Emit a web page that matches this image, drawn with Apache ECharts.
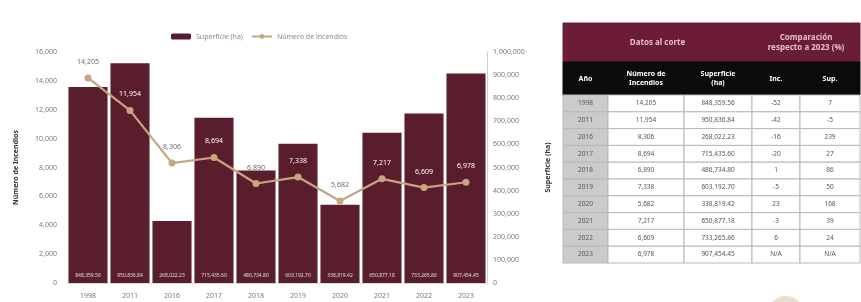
<!DOCTYPE html>
<html>
<head>
<meta charset="utf-8">
<script src="https://cdn.jsdelivr.net/npm/echarts@6/dist/echarts.min.js"></script>
<style>
  body { margin: 0; padding: 0; background: #ffffff; }
  #main { width: 861px; height: 302px; }
</style>
</head>
<body>
<div id="main"></div>
<script>
  // datos
  var years = ['1998', '2011', '2016', '2017', '2018', '2019', '2020', '2021', '2022', '2023'];
  var superficie = [848359.56, 950836.84, 268022.23, 715435.60, 486734.80, 603192.70, 338819.42, 650877.18, 733265.86, 907454.45];
  var incendios = [14205, 11954, 8306, 8694, 6890, 7338, 5682, 7217, 6609, 6978];
  var compInc = ['-52', '-42', '-16', '-20', '1', '-5', '23', '-3', '6', 'N/A'];
  var compSup = ['7', '-5', '239', '27', '86', '50', '168', '39', '24', 'N/A'];
  var leftMax = 16000, leftStep = 2000;
  var rightMax = 1000000, rightStep = 100000;

  var font = 'Noto Sans';
  var fmtInt = function (v) { return Number(v).toLocaleString('en-US'); };
  var fmtDec = function (v) { return Number(v).toLocaleString('en-US', { minimumFractionDigits: 2, maximumFractionDigits: 2 }); };

  // etiqueta blanca cuando cae sobre la barra
  var lineData = incendios.map(function (v, i) {
    var over = superficie[i] / rightMax > v / leftMax + 0.08;
    return { value: v, label: { color: over ? '#ffffff' : '#6b6b6b' } };
  });

  // ---- tabla (graphic) ----
  var colX = [563, 608, 684, 752, 800, 860];
  var h1 = [23, 62], h2 = [62, 95], rowTop = 95, rowH = 16.8;
  var graphics = [];
  function cell(x0, x1, y0, y1, fill, stroke, text, color, size, weight) {
    graphics.push({
      type: 'rect', shape: { x: x0, y: y0, width: x1 - x0, height: y1 - y0 },
      style: { fill: fill, stroke: stroke, lineWidth: 1 }, silent: true
    });
    graphics.push({
      type: 'text', x: (x0 + x1) / 2, y: (y0 + y1) / 2,
      style: { text: text, fill: color, fontSize: size, fontWeight: weight, fontFamily: font,
        align: 'center', verticalAlign: 'middle', lineHeight: size + 2 }, silent: true
    });
  }
  var maroon = '#6b1d38';
  cell(colX[0], colX[3], h1[0], h1[1], maroon, maroon, 'Datos al corte', '#e8bfcb', 8, 'bold');
  cell(colX[3], colX[5], h1[0], h1[1], maroon, maroon, 'Comparación\nrespecto a 2023 (%)', '#e8bfcb', 8, 'bold');
  var head2 = ['Año', 'Número de\nIncendios', 'Superficie\n(ha)', 'Inc.', 'Sup.'];
  head2.forEach(function (t, c) {
    cell(colX[c], colX[c + 1], h2[0], h2[1], '#0b0b0b', '#0b0b0b', t, '#ffffff', 7, 'bold');
  });
  years.forEach(function (y, r) {
    var y0 = rowTop + r * rowH, y1 = y0 + rowH;
    var vals = [y, fmtInt(incendios[r]), fmtDec(superficie[r]), compInc[r], compSup[r]];
    vals.forEach(function (t, c) {
      cell(colX[c], colX[c + 1], y0, y1, c === 0 ? '#cbcbcb' : '#ffffff', '#b9b9b9', t, '#555555', 6.5, 'normal');
    });
  });
  // logo tenue abajo a la derecha
  graphics.push({ type: 'circle', shape: { cx: 786, cy: 314, r: 18 }, style: { fill: '#eadfcf' }, silent: true });

  var chart = echarts.init(document.getElementById('main'));
  var option = {
    backgroundColor: '#ffffff',
    textStyle: { fontFamily: font },
    animation: false,
    legend: {
      top: 28, left: 166,
      itemWidth: 20, itemHeight: 6, itemGap: 8,
      textStyle: { fontSize: 7, color: '#8a8a8a', fontFamily: font },
      data: ['Superficie (ha)', 'Número de incendios']
    },
    grid: { left: 67, right: 374, top: 52, bottom: 19 },
    xAxis: {
      type: 'category',
      data: years,
      axisTick: { show: false },
      axisLine: { lineStyle: { color: '#dddddd' } },
      axisLabel: { fontSize: 7, color: '#7a7a7a', margin: 9 }
    },
    yAxis: [
      {
        type: 'value', min: 0, max: leftMax, interval: leftStep,
        name: 'Número de Incendios', nameLocation: 'middle', nameGap: 48,
        nameTextStyle: { fontSize: 7, fontWeight: 'bold', color: '#333333' },
        axisLine: { show: false }, axisTick: { show: false }, splitLine: { show: false },
        axisLabel: { fontSize: 7, color: '#7a7a7a', margin: 10, formatter: fmtInt }
      },
      {
        type: 'value', min: 0, max: rightMax, interval: rightStep,
        name: 'Superficie (ha)', nameLocation: 'middle', nameGap: 57, nameRotate: 90,
        nameTextStyle: { fontSize: 7, fontWeight: 'bold', color: '#333333' },
        axisLine: { show: true, lineStyle: { color: '#cfcfcf' } }, axisTick: { show: false }, splitLine: { show: false },
        axisLabel: { fontSize: 7, color: '#7a7a7a', margin: 6, formatter: fmtInt }
      }
    ],
    series: [
      {
        name: 'Superficie (ha)',
        type: 'bar',
        yAxisIndex: 1,
        barCategoryGap: '7%',
        itemStyle: { color: '#5a1d2b' },
        label: {
          show: true, position: 'insideBottom', distance: 5,
          fontSize: 5, color: '#e6d6da', formatter: function (p) { return fmtDec(p.value); }
        },
        data: superficie
      },
      {
        name: 'Número de incendios',
        type: 'line',
        yAxisIndex: 0,
        symbol: 'circle',
        symbolSize: 7,
        lineStyle: { color: '#c6a680', width: 2.2 },
        itemStyle: { color: '#c6a680' },
        label: {
          show: true, position: 'top', distance: 9, fontSize: 7,
          formatter: function (p) { return fmtInt(p.value); }
        },
        data: lineData
      }
    ],
    graphic: graphics
  };
  chart.setOption(option);
</script>
</body>
</html>
